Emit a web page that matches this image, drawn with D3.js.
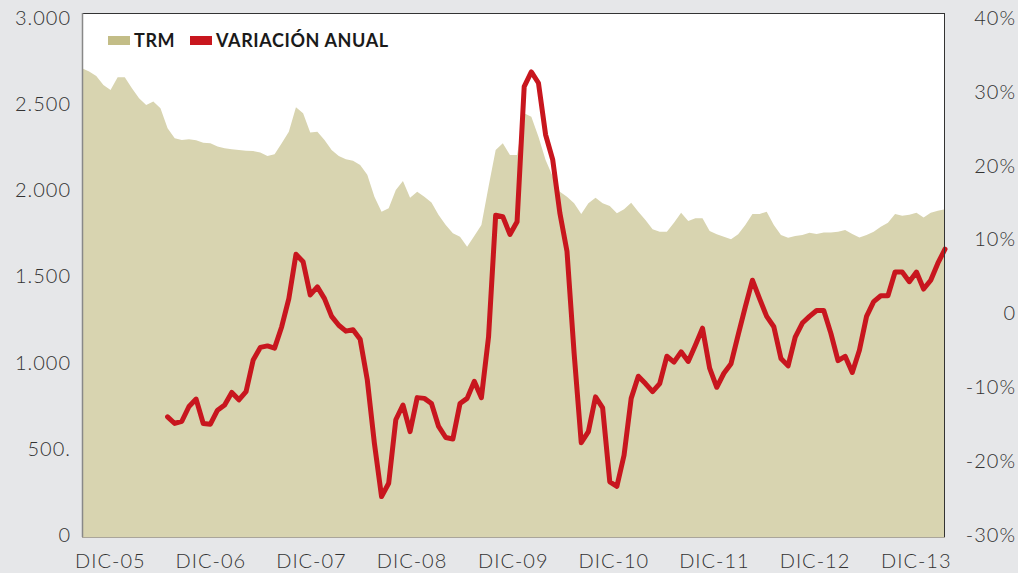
<!DOCTYPE html>
<html><head><meta charset="utf-8">
<script src="https://cdn.jsdelivr.net/npm/d3@7"></script>
<style>
html,body{margin:0;padding:0;background:#e6e7e9;}
svg{display:block;font-family:Lato,"Open Sans",sans-serif;}
</style></head>
<body><svg id="c" width="1018" height="573"></svg>
<script>
// Monthly TRM (COP/USD), 122 consecutive months
const trm = [2708,2689,2663,2611,2582,2656,2656,2592,2534,2495,2515,2476,
 2360,2302,2292,2296,2290,2276,2273,2255,2244,2238,2234,2230,2228,2219,2199,2209,2273,2340,
 2482,2447,2335,2340,2292,2234,2199,2180,2172,2147,2090,1963,1876,1896,2002,2054,1957,1992,
 1963,1930,1857,1799,1751,1731,1673,1735,1799,2021,2234,2273,2205,2205,2447,2427,2311,2176,
 2080,1992,1963,1925,1863,1925,1957,1925,1909,1867,1890,1928,1876,1828,1774,1760,1760,1812,
 1870,1822,1838,1838,1764,1745,1731,1716,1745,1799,1863,1863,1876,1799,1741,1725,1735,1741,
 1754,1747,1756,1756,1760,1770,1747,1727,1741,1760,1789,1812,1863,1853,1858,1870,1843,1870,
 1882,1890];
// Annual variation (%), starting at month index 12
const varStart = 12;
const variacion = [-14.0,-14.9,-14.6,-12.6,-11.6,-14.9,-15.0,-13.1,-12.4,-10.7,-11.7,-10.6,
 -6.3,-4.6,-4.4,-4.7,-1.8,2.0,8.0,7.0,2.5,3.6,2.0,-0.4,-1.6,-2.4,-2.2,-3.5,-9.0,-17.6,
 -24.8,-23.0,-14.4,-12.4,-16.0,-11.4,-11.5,-12.2,-15.3,-16.8,-17.0,-12.2,-11.5,-9.2,-11.4,-3.2,
 13.3,13.1,10.7,12.4,30.7,32.7,31.2,24.2,20.8,13.6,8.4,-5.4,-17.5,-16.0,-11.3,-12.8,-22.8,-23.4,
 -19.2,-11.5,-8.5,-9.5,-10.6,-9.5,-5.8,-6.6,-5.2,-6.5,-4.3,-2.0,-7.4,-10.0,-8.1,-6.8,-2.9,0.9,
 4.5,2.0,-0.4,-1.8,-6.1,-7.1,-3.2,-1.3,-0.4,0.4,0.4,-2.7,-6.4,-5.8,-8.0,-5.0,-0.4,1.6,
 2.4,2.4,5.6,5.6,4.3,5.6,3.3,4.5,6.8,8.7];
// X-axis labels and their positions (month index)
const xLabels = ["DIC-05","DIC-06","DIC-07","DIC-08","DIC-09","DIC-10","DIC-11","DIC-12","DIC-13"];
const xLabelIdx = [3.9,18.0,32.1,46.2,60.4,74.5,88.6,102.7,116.9];
// Left axis ticks
const leftTicks = [0,500,1000,1500,2000,2500,3000];
const leftTickLabels = ["0","500.","1.000","1.500","2.000","2.500","3.000"];
// Right axis ticks
const rightTicks = [-30,-20,-10,0,10,20,30,40];
const rightTickLabels = ["-30%","-20%","-10%","0","10%","20%","30%","40%"];
const seriesNames = ["TRM","VARIACIÓN ANUAL"];

const svg = d3.select("#c");
const L = 82, R = 945, T = 13, B = 537;
const x = d3.scaleLinear().domain([0, trm.length-1]).range([L, R]);
const yL = d3.scaleLinear().domain([0,3000]).range([535,18]);
const yR = d3.scaleLinear().domain([-30,40]).range([535,18]);

const areaCol = "#d8d4b0", swatchCol = "#c3bd87", red = "#c8161e";

svg.append("rect").attr("x",L).attr("y",T).attr("width",R-L).attr("height",B-T).attr("fill","#fff");

svg.append("path").datum(trm)
  .attr("fill",areaCol)
  .attr("d", d3.area().x((d,i)=>x(i)).y0(B).y1(d=>yL(d)));

svg.append("path").datum(variacion)
  .attr("fill","none").attr("stroke",red).attr("stroke-width",5)
  .attr("stroke-linejoin","round").attr("stroke-linecap","round")
  .attr("d", d3.line().x((d,i)=>x(i+varStart)).y(d=>yR(d)));

// frame
svg.append("line").attr("x1",L).attr("x2",R).attr("y1",T+0.5).attr("y2",T+0.5).attr("stroke","#333").attr("stroke-width",1);
svg.append("line").attr("x1",R-0.5).attr("x2",R-0.5).attr("y1",T).attr("y2",B).attr("stroke","#333").attr("stroke-width",1);
svg.append("line").attr("x1",L+0.5).attr("x2",L+0.5).attr("y1",T).attr("y2",B).attr("stroke","#888").attr("stroke-width",1.5);
svg.append("line").attr("x1",L).attr("x2",R).attr("y1",B+0.5).attr("y2",B+0.5).attr("stroke","#aaa59a").attr("stroke-width",1);

const txtCol = "#333";
function styleTicks(sel){
  sel.selectAll("text").attr("font-size",20).attr("fill",txtCol)
    .attr("font-family","Lato").attr("font-weight",300).attr("letter-spacing","1px");
}
// left axis
const axL = svg.append("g").attr("transform",`translate(${L-11},0)`)
  .call(d3.axisLeft(yL).tickValues(leftTicks).tickSize(0).tickPadding(0)
    .tickFormat((d,i)=>leftTickLabels[i]));
axL.select(".domain").remove();
styleTicks(axL);

// right axis
const axR = svg.append("g").attr("transform",`translate(1016,0)`)
  .call(d3.axisLeft(yR).tickValues(rightTicks).tickSize(0).tickPadding(0)
    .tickFormat((d,i)=>rightTickLabels[i]));
axR.select(".domain").remove();
styleTicks(axR);

// bottom axis
const axB = svg.append("g").attr("transform",`translate(0,${B})`)
  .call(d3.axisBottom(x).tickValues(xLabelIdx).tickSize(0).tickPadding(17)
    .tickFormat((d,i)=>xLabels[i]));
axB.select(".domain").remove();
styleTicks(axB);

// legend
const leg = svg.append("g");
const legItems = [{n:seriesNames[0], c:swatchCol, x:108},{n:seriesNames[1], c:red, x:190}];
legItems.forEach(it=>{
  leg.append("rect").attr("x",it.x).attr("y",36).attr("width",22).attr("height",9).attr("fill",it.c);
  leg.append("text").attr("x",it.x+26).attr("y",46.5).text(it.n)
    .attr("font-size",18).attr("font-weight","bold").attr("letter-spacing","0.6px")
    .attr("fill","#1a1a1a").attr("font-family","Lato");
});
</script></body></html>
